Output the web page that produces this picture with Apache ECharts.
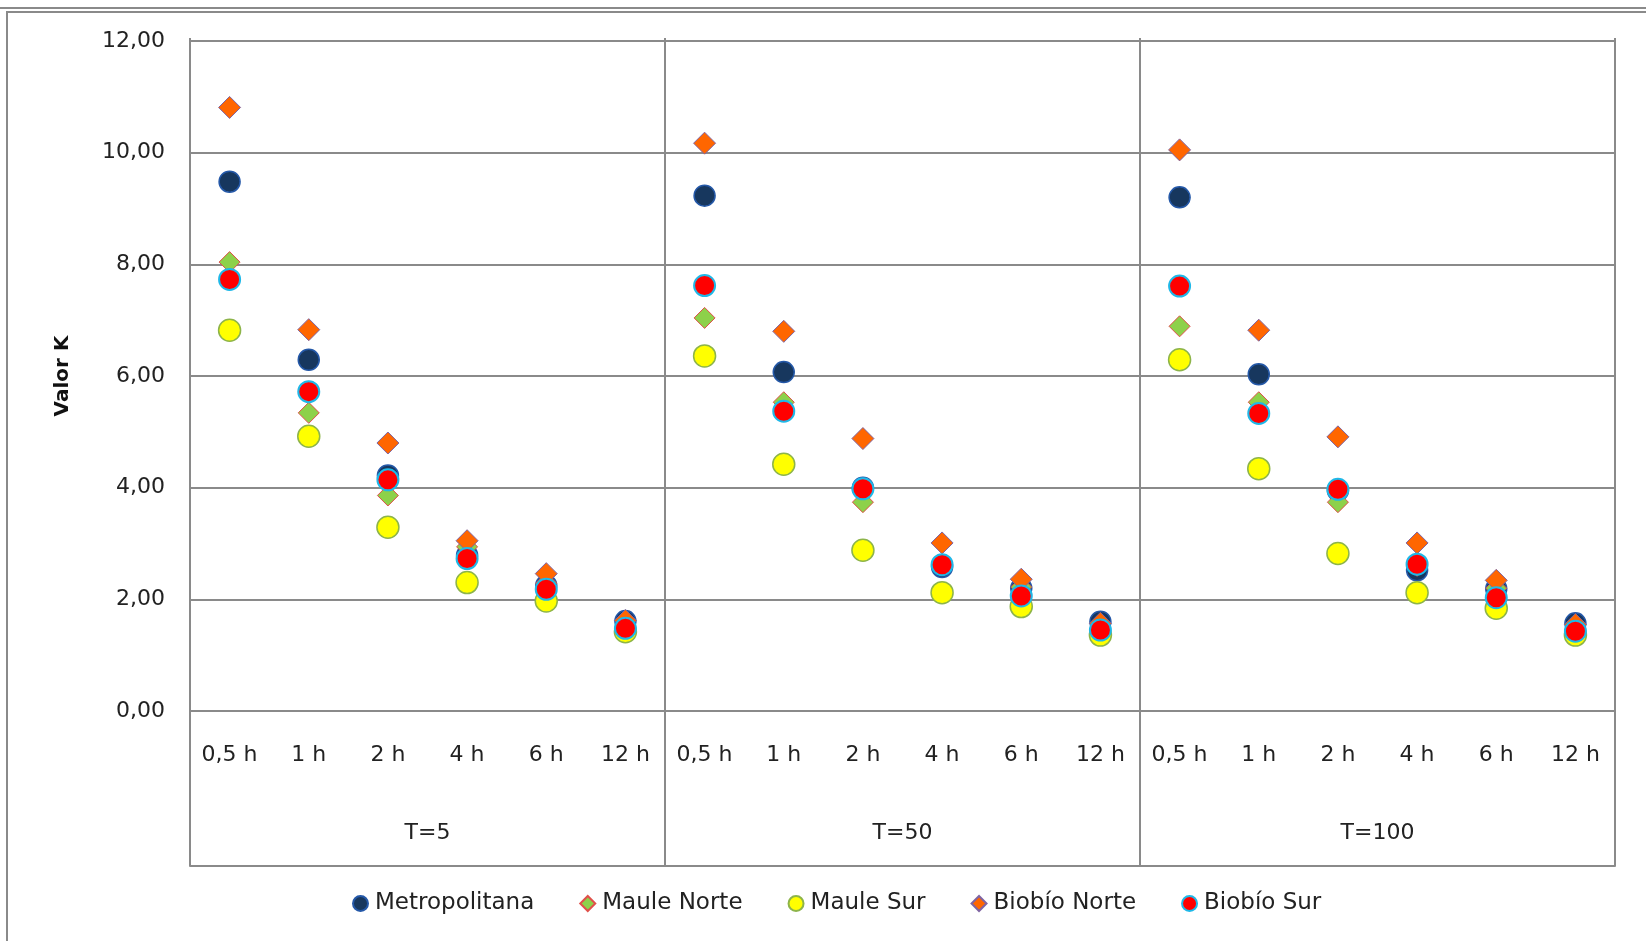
<!DOCTYPE html>
<html>
<head>
<meta charset="utf-8">
<script src="https://cdn.jsdelivr.net/npm/echarts@6/dist/echarts.min.js"></script>
<style>
  html, body { margin: 0; padding: 0; background: #fff; }
  #chart { width: 1646px; height: 941px; }
</style>
</head>
<body>
<div id="chart"></div>
<script>
// Duration categories repeated within each return period
const hours = ['0,5 h', '1 h', '2 h', '4 h', '6 h', '12 h'];
const periods = ['T=5', 'T=50', 'T=100'];
const yTicks = { min: 0, max: 12, interval: 2 };

// K values per region, ordered T=5, T=50, T=100 × hours
const metropolitana = [9.48, 6.29, 4.22, 2.79, 2.25, 1.61,  9.23, 6.07, 4.00, 2.58, 2.20, 1.60,  9.20, 6.03, 3.95, 2.52, 2.19, 1.57];
const mauleNorte    = [8.04, 5.34, 3.86, 2.94, 2.29, 1.45,  7.04, 5.53, 3.74, 2.62, 2.22, 1.38,  6.89, 5.53, 3.74, 2.60, 2.20, 1.38];
const mauleSur      = [6.82, 4.92, 3.29, 2.30, 1.97, 1.42,  6.36, 4.42, 2.88, 2.12, 1.87, 1.36,  6.29, 4.34, 2.82, 2.12, 1.84, 1.36];
const biobioNorte   = [10.81, 6.83, 4.80, 3.05, 2.46, 1.62, 10.17, 6.80, 4.88, 3.01, 2.36, 1.57, 10.05, 6.82, 4.91, 3.01, 2.34, 1.55];
const biobioSur     = [7.73, 5.72, 4.14, 2.73, 2.18, 1.48,  7.62, 5.37, 3.98, 2.62, 2.06, 1.45,  7.61, 5.33, 3.97, 2.63, 2.03, 1.43];

// Unique category keys "period|hour"; the axis shows only the hour part
const categories = [];
periods.forEach(p => hours.forEach(h => categories.push(p + '|' + h)));

const FONT = 'DejaVu Sans';
const TEXT = '#222';
const LINE = '#8a8a8a';

function series(name, data, symbol, size, fill, border, bw) {
  return {
    name, type: 'scatter', data, symbol, symbolSize: size,
    xAxisIndex: 0, yAxisIndex: 0,
    itemStyle: { color: fill, borderColor: border, borderWidth: bw, opacity: 1 },
    emphasis: { disabled: true }
  };
}

const chart = echarts.init(document.getElementById('chart'), null, { renderer: 'canvas' });
chart.setOption({
  animation: false,
  backgroundColor: '#fff',
  textStyle: { fontFamily: FONT },
  graphic: [
    // outer chart frame
    { type: 'line', shape: { x1: 0, y1: 8, x2: 1646, y2: 8 }, style: { stroke: LINE, lineWidth: 2 }, silent: true },
    { type: 'rect', shape: { x: 7, y: 12, width: 1700, height: 1000 }, style: { fill: 'none', stroke: LINE, lineWidth: 2 }, silent: true }
  ],
  grid: { left: 190, right: 31, top: 41, bottom: 230, containLabel: false },
  legend: {
    left: 347, top: 887,
    itemWidth: 15, itemHeight: 15, itemGap: 45,
    textStyle: { fontFamily: FONT, fontSize: 23, color: TEXT, padding: [0, 0, 0, 2] },
    data: [
      { name: 'Metropolitana', icon: 'circle' },
      { name: 'Maule Norte', icon: 'diamond' },
      { name: 'Maule Sur', icon: 'circle' },
      { name: 'Biobío Norte', icon: 'diamond' },
      { name: 'Biobío Sur', icon: 'circle' }
    ]
  },
  xAxis: [
    {
      type: 'category', data: categories, boundaryGap: true,
      axisLine: { show: false }, axisTick: { show: false }, splitLine: { show: false },
      axisLabel: {
        interval: 0, margin: 33, fontFamily: FONT, fontSize: 22, color: TEXT,
        formatter: v => v.split('|')[1]
      }
    },
    {
      type: 'category', data: periods, boundaryGap: true, position: 'bottom', offset: 155,
      axisLine: { show: true, lineStyle: { color: LINE, width: 2 } },
      axisTick: { show: true, inside: true, length: 828, lineStyle: { color: LINE, width: 2 } },
      splitLine: { show: false },
      axisLabel: { inside: true, margin: 22, fontFamily: FONT, fontSize: 22, color: TEXT }
    }
  ],
  yAxis: {
    type: 'value', min: yTicks.min, max: yTicks.max, interval: yTicks.interval,
    name: 'Valor K', nameLocation: 'middle', nameGap: 117, nameRotate: 90,
    nameTextStyle: { fontFamily: FONT, fontSize: 20, fontWeight: 'bold', color: '#111' },
    axisLine: { show: true, lineStyle: { color: LINE, width: 2 } },
    axisTick: { show: false },
    splitLine: { show: true, lineStyle: { color: LINE, width: 2 } },
    axisLabel: {
      margin: 25, fontFamily: FONT, fontSize: 22, color: TEXT,
      formatter: v => v.toFixed(2).replace('.', ',')
    }
  },
  series: [
    series('Metropolitana', metropolitana, 'circle', 21, '#17375E', '#2458A8', 1.5),
    series('Maule Norte', mauleNorte, 'diamond', 21, '#8DD14A', '#E0504A', 1),
    series('Maule Sur', mauleSur, 'circle', 22, '#FFFF00', '#8DB44A', 1.5),
    series('Biobío Norte', biobioNorte, 'diamond', 22, '#FF6600', '#7F64A2', 1),
    series('Biobío Sur', biobioSur, 'circle', 21, '#FF0000', '#1FB8E8', 2)
  ]
});
</script>
</body>
</html>
